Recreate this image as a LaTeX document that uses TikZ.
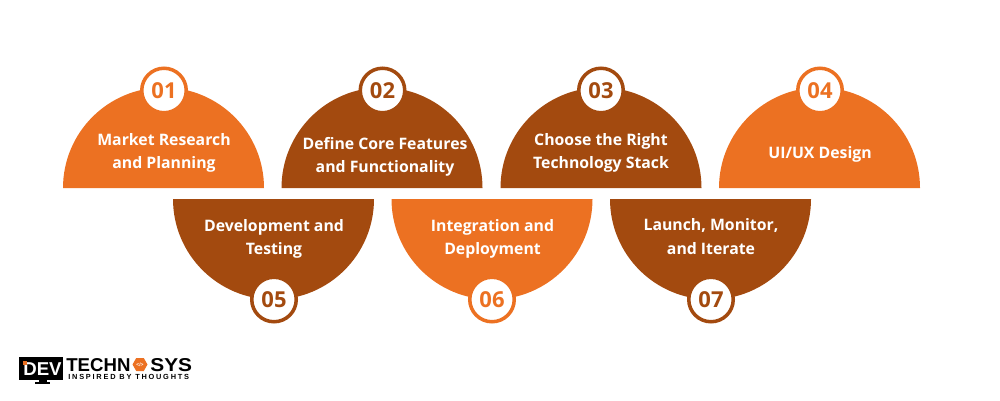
\documentclass[tikz,border=0pt]{standalone}
\usepackage{fontspec}
\setmainfont{Open Sans}
\newfontfamily\logofont{Liberation Sans}
\newfontfamily\tagfont[LetterSpace=24]{Liberation Sans}
\usepackage{xcolor}
\usetikzlibrary{positioning,shapes.geometric}
\definecolor{stepOrange}{HTML}{EC7122}
\definecolor{stepBrown}{HTML}{A34A0F}
\tikzset{
  steptext/.style={text=white,font=\fontsize{9}{13.2}\selectfont\bfseries,align=center},
  badge/.style={circle,draw=#1,fill=white,line width=2pt,minimum size=0.89cm,inner sep=0pt,text=#1,font=\fontsize{12.5}{14}\selectfont\bfseries},
  logotext/.style={inner sep=0pt,font=\logofont\fontsize{10.6}{11}\selectfont\bfseries}
}
\begin{document}
\begin{tikzpicture}[x=0.02cm,y=0.02cm]
  \def\rad{100.5}
  \useasboundingbox (0,0) rectangle (1000,400);

  % top row
  \fill[stepOrange] (63,212) arc[start angle=180,end angle=0,radius=\rad];
  \fill[stepBrown] (281.5,212) arc[start angle=180,end angle=0,radius=\rad];
  \fill[stepBrown] (500.5,212) arc[start angle=180,end angle=0,radius=\rad];
  \fill[stepOrange] (719,212) arc[start angle=180,end angle=0,radius=\rad];

  % bottom row
  \fill[stepBrown] (173,201) arc[start angle=180,end angle=360,radius=\rad];
  \fill[stepOrange] (391.5,201) arc[start angle=180,end angle=360,radius=\rad];
  \fill[stepBrown] (610,201) arc[start angle=180,end angle=360,radius=\rad];

  \node[badge=stepOrange] (b1) at (164,309.5) {01};
  \node[badge=stepBrown] (b2) at (382.5,309.5) {02};
  \node[badge=stepBrown] (b3) at (601,309.5) {03};
  \node[badge=stepOrange] (b4) at (820,309.5) {04};
  \node[badge=stepBrown] (b5) at (274,100.5) {05};
  \node[badge=stepOrange] (b6) at (492,100.5) {06};
  \node[badge=stepBrown] (b7) at (711,100.5) {07};

  \node[steptext] (t1) at (164,247.5) {Market Research\\and Planning};
  \node[steptext] (t2) at (385,243.5) {Define Core Features\\and Functionality};
  \node[steptext] (t3) at (601,247.5) {Choose the Right\\Technology Stack};
  \node[steptext] (t4) at (820,246) {UI/UX Design};
  \node[steptext] (t5) at (274,161.5) {Development and\\Testing};
  \node[steptext] (t6) at (492.5,161.5) {Integration and\\Deployment};
  \node[steptext] (t7) at (711,163.5) {Launch, Monitor,\\and Iterate};

  % logo
  \fill[black] (19,43) rectangle (63,20);
  \fill[black] (39,20) rectangle (47,18);
  \fill[black] (35,18) rectangle (50,16);
  \node[logotext,text=white,anchor=base west] (dev) at (23,25) {DEV};
  \fill[stepOrange] (23,39) rectangle (27,35);
  \node[logotext,anchor=base west] (tech) at (66,29) {TECHN};
  \node[regular polygon,regular polygon sides=6,fill=stepOrange,minimum size=0.3cm,inner sep=0pt,text=white,font=\logofont\fontsize{2.8}{3}\selectfont\bfseries] (hex) at (140,35.5) {</>};
  \node[logotext,anchor=base west,xscale=1.12] (sys) at (150,29) {SYS};
  \node[inner sep=0pt,anchor=base west,font=\tagfont\fontsize{4.2}{5}\selectfont\bfseries] (tag) at (68,21) {INSPIRED BY THOUGHTS};
\end{tikzpicture}
\end{document}
